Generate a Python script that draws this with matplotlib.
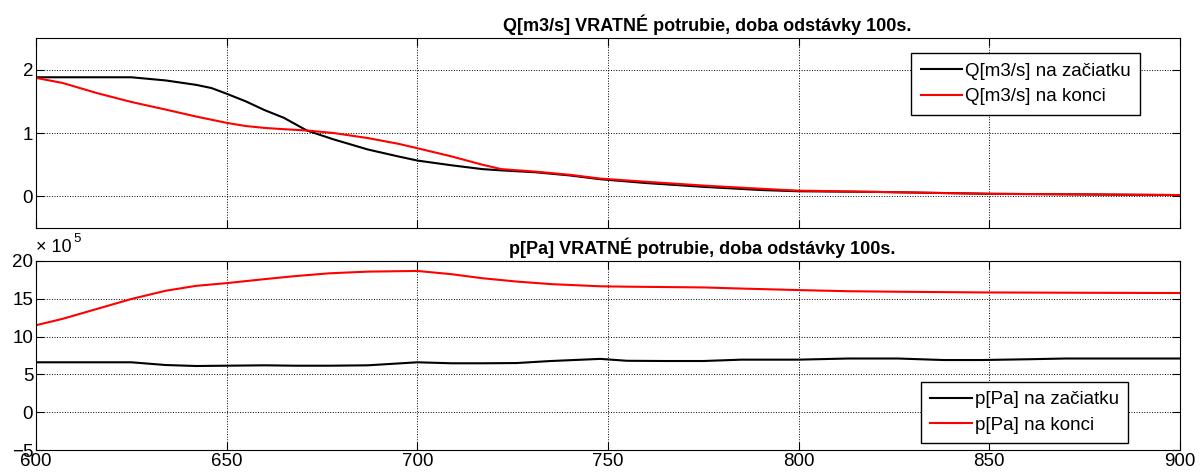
import matplotlib
matplotlib.use("Agg")
import matplotlib.pyplot as plt

plt.rcParams['font.family'] = ['Liberation Sans', 'DejaVu Sans']

# time axis for flow [s]
t_q = [600, 607, 616, 625, 634, 642, 646, 650, 655, 660, 665, 671, 678, 687, 695,
       700, 709, 717, 722, 731, 740, 748, 760, 775, 790, 800, 820, 850, 875, 900]
# flow rate [m3/s]
q_start = [1.88, 1.88, 1.88, 1.88, 1.83, 1.76, 1.71, 1.62, 1.50, 1.36, 1.24, 1.04, 0.90, 0.74, 0.63,
           0.565, 0.49, 0.43, 0.41, 0.38, 0.33, 0.27, 0.21, 0.15, 0.10, 0.08, 0.07, 0.04, 0.03, 0.02]
q_end = [1.87, 1.79, 1.63, 1.49, 1.37, 1.26, 1.21, 1.16, 1.11, 1.08, 1.06, 1.04, 1.00, 0.92, 0.83,
         0.76, 0.63, 0.50, 0.43, 0.39, 0.34, 0.28, 0.23, 0.17, 0.12, 0.09, 0.07, 0.04, 0.03, 0.02]

# time axis for pressure [s]
t_p = [600, 607, 616, 625, 634, 642, 650, 660, 668, 677, 687, 700, 709, 717, 726,
       735, 748, 755, 765, 775, 785, 800, 813, 826, 838, 848, 860, 870, 885, 900]
# pressure [x 10^5 Pa]
p_start = [6.6, 6.6, 6.6, 6.6, 6.24, 6.11, 6.15, 6.2, 6.15, 6.15, 6.2, 6.6, 6.47, 6.47, 6.5,
           6.77, 7.05, 6.8, 6.77, 6.77, 6.95, 6.95, 7.1, 7.1, 6.9, 6.9, 7.0, 7.1, 7.1, 7.1]
p_end = [11.5, 12.35, 13.66, 14.97, 16.06, 16.71, 17.07, 17.6, 18.0, 18.37, 18.59, 18.68, 18.25, 17.72, 17.28,
         16.94, 16.65, 16.6, 16.55, 16.5, 16.35, 16.15, 16.0, 15.93, 15.88, 15.84, 15.82, 15.8, 15.78, 15.76]

x_ticks = [600, 650, 700, 750, 800, 850, 900]
q_ticks = [0, 1, 2]
p_ticks = [-5, 0, 5, 10, 15, 20]

fig = plt.figure(figsize=(12, 4.75), dpi=100)
ax1 = fig.add_axes([0.03, 0.52, 0.9533, 0.40])
ax2 = fig.add_axes([0.03, 0.0526, 0.9533, 0.398])

for ax in (ax1, ax2):
    ax.set_xlim(600, 900)
    ax.set_xticks(x_ticks)
    ax.tick_params(direction='in', top=True, right=True, length=6, width=0.8,
                   labelsize=13.5, pad=2)
    ax.grid(True, linestyle=':', color='black', linewidth=0.7)
    for s in ax.spines.values():
        s.set_linewidth(0.8)

legend_kw = dict(fontsize=13.5, fancybox=False, edgecolor='black', framealpha=1,
                 handlelength=2.2, handletextpad=0.15, borderpad=0.5,
                 labelspacing=0.45, borderaxespad=0)

# top: flow
ax1.plot(t_q, q_start, color='black', linewidth=1.5, label='Q[m3/s] na začiatku')
ax1.plot(t_q, q_end, color='red', linewidth=1.5, label='Q[m3/s] na konci')
ax1.set_ylim(-0.5, 2.5)
ax1.set_yticks(q_ticks)
ax1.tick_params(labelbottom=False)
ax1.set_title('Q[m3/s] VRATNÉ potrubie, doba odstávky 100s.', fontsize=13,
              fontweight='bold', x=0.587, pad=5)
ax1.legend(loc='upper right', bbox_to_anchor=(0.965, 0.919), **legend_kw)

# bottom: pressure
ax2.plot(t_p, p_start, color='black', linewidth=1.5, label='p[Pa] na začiatku')
ax2.plot(t_p, p_end, color='red', linewidth=1.5, label='p[Pa] na konci')
ax2.set_ylim(-5, 20)
ax2.set_yticks(p_ticks)
ax2.set_title('p[Pa] VRATNÉ potrubie, doba odstávky 100s.', fontsize=13,
              fontweight='bold', x=0.582, pad=5)
ax2.text(0.0, 1.025, '× 10', transform=ax2.transAxes, fontsize=13,
         ha='left', va='bottom')
ax2.text(0.033, 1.085, '5', transform=ax2.transAxes, fontsize=9.5,
         ha='left', va='bottom')
ax2.legend(loc='lower right', bbox_to_anchor=(0.9545, 0.035), **legend_kw)

fig.savefig('out.png', dpi=100)
